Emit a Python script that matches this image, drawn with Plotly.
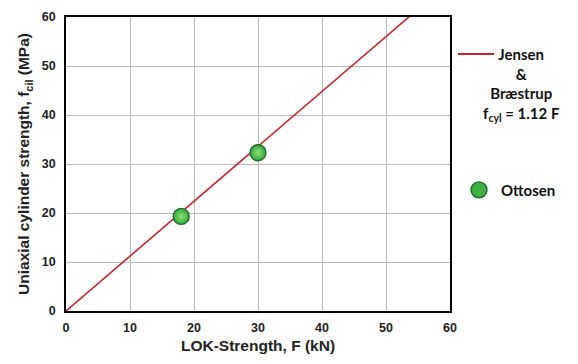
import plotly.graph_objects as go

# LOK pull-out force vs. cylinder strength
ottosen_F = [18, 30]            # kN
ottosen_fcyl = [19.3, 32.3]     # MPa

jensen_coef = 1.12              # f_cyl = 1.12 F
jensen_F = [0, 55]
jensen_fcyl = [jensen_coef * f for f in jensen_F]

x_ticks = [0, 10, 20, 30, 40, 50, 60]
y_ticks = [0, 10, 20, 30, 40, 50, 60]

W, H = 578, 364
L, R, T, B = 66, 128, 10, 53
pw, ph = W - L - R, H - T - B


def px(x):
    return (x - L) / pw


def py(y):
    return (H - B - y) / ph


fig = go.Figure()

fig.add_trace(go.Scatter(
    x=jensen_F, y=jensen_fcyl, mode="lines",
    line=dict(color="#c4262e", width=1.6),
    name="Jensen & Bræstrup", showlegend=False,
))

fig.add_trace(go.Scatter(
    x=ottosen_F, y=ottosen_fcyl, mode="markers",
    marker=dict(size=16, color="#2fa83a",
                gradient=dict(type="radial", color="#8fe07a"),
                line=dict(color="#17662a", width=1.3)),
    name="Ottosen", showlegend=False,
))

axis_common = dict(
    showgrid=True, gridcolor="#b9b9b9", gridwidth=1,
    zeroline=False, showline=True, linecolor="black", linewidth=1.6,
    mirror=True, ticks="", fixedrange=True,
    tickfont=dict(family="Liberation Sans", size=12.5, color="#222", weight="bold"),
    title_font=dict(family="Liberation Sans", size=15.5, color="#222", weight="bold"),
)

fig.update_xaxes(range=[0, 60], tickvals=x_ticks, ticklabelstandoff=4,
                 title=dict(text="LOK-Strength, F (kN)", standoff=6), **axis_common)
fig.update_yaxes(range=[0, 60], tickvals=y_ticks, ticklabelstandoff=6,
                 title=dict(text="Uniaxial cylinder strength, f<sub>cil</sub> (MPa)", standoff=8),
                 **axis_common)

# Legend drawn beside the plot
legend_font = dict(family="Lato", size=15, color="#111", weight="bold")
fig.add_shape(type="line", xref="paper", yref="paper",
              x0=px(458), x1=px(494), y0=py(48), y1=py(48),
              line=dict(color="#c4262e", width=2))
fig.add_annotation(xref="paper", yref="paper", x=px(521), y=py(37),
                   xanchor="center", yanchor="top", showarrow=False, align="center",
                   text="Jensen<br>&<br>Bræstrup<br>f<sub>cyl</sub> = 1.12 F",
                   font=legend_font)
fig.add_shape(type="circle", xref="paper", yref="paper",
              xsizemode="pixel", ysizemode="pixel",
              xanchor=px(479), yanchor=py(187),
              x0=-8, x1=8, y0=-8, y1=8,
              fillcolor="#3cb043", line=dict(color="#17662a", width=1.3))
fig.add_annotation(xref="paper", yref="paper", x=px(499), y=py(187),
                   xanchor="left", yanchor="middle", showarrow=False,
                   text="Ottosen", font=legend_font)

fig.update_layout(
    width=W, height=H,
    margin=dict(l=L, r=R, t=T, b=B),
    plot_bgcolor="white", paper_bgcolor="white",
)

fig.write_html("out.html")
